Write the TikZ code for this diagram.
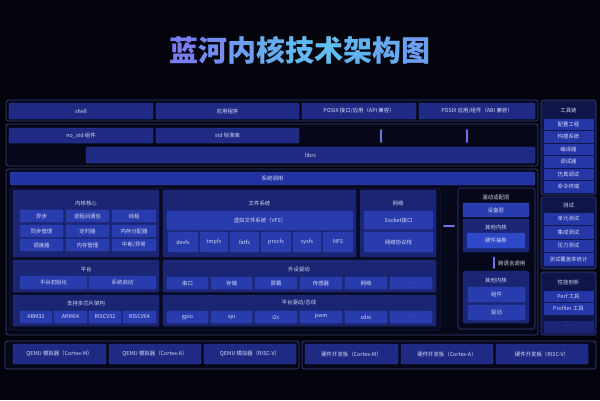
\documentclass[tikz,border=0pt]{standalone}
\usepackage{fontspec}
\setmainfont{Noto Sans CJK SC}
\usetikzlibrary{arrows.meta}
\definecolor{bg}{HTML}{03040B}
\definecolor{frameline}{HTML}{34407E}
\definecolor{framefill}{HTML}{06081A}
\definecolor{boxfill}{HTML}{1E2A84}
\definecolor{boxline}{HTML}{3444A8}
\definecolor{barfill}{HTML}{2232A0}
\definecolor{panelfill}{HTML}{1A2574}
\definecolor{panelline}{HTML}{26338C}
\definecolor{cellfill}{HTML}{293CAE}
\definecolor{cellline}{HTML}{3448BE}
\definecolor{brightfill}{HTML}{2F48C8}
\definecolor{innerfill}{HTML}{080A20}
\definecolor{innerline}{HTML}{1A2058}
\definecolor{rpanel}{HTML}{0F1548}
\definecolor{ritem}{HTML}{2536A6}
\definecolor{arrowc}{HTML}{6F74E8}
\definecolor{txt}{HTML}{D6DBF5}
\definecolor{dimtxt}{HTML}{6A74B8}
\definecolor{tA}{HTML}{7A7EF2}
\definecolor{tB}{HTML}{5CC4F0}
\newcommand{\mysmall}{\fontsize{5.4}{6}\selectfont}
\newcommand{\mytitle}{\fontsize{29}{32}\selectfont\bfseries}
\newcommand{\bx}[7]{%
  \pgfmathsetmacro{\bxw}{#4-#2}\pgfmathsetmacro{\bxh}{#5-#3}%
  \node[#6, minimum width=\bxw pt, minimum height=\bxh pt] (#1) at ({(#2+#4)/2},{(#3+#5)/2}) {#7};}
\begin{document}
\begin{tikzpicture}[x=1pt,y=-1pt,
  base/.style={inner sep=0pt, outer sep=0pt, text=txt, font=\mysmall},
  frame/.style={base, draw=frameline, fill=framefill, rounded corners=2.5pt, line width=0.7pt},
  innerframe/.style={base, draw=innerline, fill=innerfill, rounded corners=2pt, line width=0.5pt},
  box/.style={base, draw=boxline, fill=boxfill, rounded corners=1.5pt, line width=0.4pt},
  bar/.style={base, draw=boxline, fill=barfill, rounded corners=1.5pt, line width=0.4pt},
  panel/.style={base, draw=panelline, fill=panelfill, rounded corners=2pt, line width=0.4pt},
  cell/.style={base, draw=cellline, fill=cellfill, rounded corners=1.2pt, line width=0.3pt},
  bright/.style={base, draw=cellline, fill=brightfill, rounded corners=1.2pt, line width=0.3pt},
  dframe/.style={base, draw=frameline, fill=framefill, rounded corners=2.5pt, line width=0.6pt},
  rframe/.style={base, draw=frameline, fill=rpanel, rounded corners=2pt, line width=0.6pt},
  ritembox/.style={base, draw=rpanel, fill=ritem, line width=0.4pt},
  dimbox/.style={base, draw=rpanel, fill=panelfill, text=dimtxt, line width=0.4pt},
  dimcell/.style={cell, text=dimtxt},
  hdr/.style={inner sep=0pt, text=txt, font=\mysmall},
  dbl/.style={arrowc, line width=1.6pt, {Latex[length=1.6pt,width=2.6pt]}-{Latex[length=1.6pt,width=2.6pt]}}
]
\fill[bg] (0,0) rectangle (600,400);
\useasboundingbox (0,0) rectangle (600,400);

% title
\node[font=\mytitle, inner sep=0pt] (title) at (300,50) {%
{\color{tA}蓝}{\color{tA!80!tB}河}{\color{tA!55!tB}内}{\color{tA!35!tB}核}{\color{tA!15!tB}技}{\color{tA!10!tB}术}{\color{tA!25!tB}架}{\color{tA!40!tB}构}{\color{tA!55!tB}图}};

% row A
\bx{rowA}{6}{100}{538}{121}{frame}{}
\bx{shell}{9}{103}{153}{119}{box}{shell}
\bx{app}{156}{103}{299}{119}{box}{应用程序}
\bx{posixapi}{302}{103}{416}{119}{box}{POSIX 接口/应用（API 兼容）}
\bx{posixabi}{419}{103}{535}{119}{box}{POSIX 应用/组件（ABI 兼容）}

% row B
\bx{rowB}{6}{124}{538}{166}{frame}{}
\bx{nostd}{9}{128}{153}{143}{box}{no\_std 组件}
\bx{std}{156}{128}{299}{143}{box}{std 标准库}
\bx{librs}{86}{147}{535}{163}{box}{librs}
\coordinate (a1t) at (381,129);
\coordinate (a1b) at (381,143);
\coordinate (a2t) at (467,129);
\coordinate (a2b) at (467,143);
\draw[dbl] (a1t) -- (a1b);
\draw[dbl] (a2t) -- (a2b);

% main kernel
\bx{main}{6}{169}{538}{335}{frame}{}
\bx{syscall}{10}{172}{535}{185}{bar}{系统调用}
\bx{inner}{10}{188}{440}{330}{innerframe}{}

% kernel core
\bx{core}{13}{190}{159}{257}{panel}{}
\node[hdr] (coreh) at (86,203) {内核核心};
\bx{c11}{20}{210}{63}{222}{cell}{异步}
\bx{c12}{66}{210}{109}{222}{cell}{进程间通信}
\bx{c13}{112}{210}{156}{222}{cell}{线程}
\bx{c21}{20}{225}{63}{237}{cell}{同步管理}
\bx{c22}{66}{225}{109}{237}{cell}{定时器}
\bx{c23}{112}{225}{156}{237}{cell}{内存分配器}
\bx{c31}{20}{239}{63}{251}{cell}{调度器}
\bx{c32}{66}{239}{109}{251}{cell}{内存管理}
\bx{c33}{112}{239}{156}{251}{cell}{中断/异常}

% file system
\bx{fs}{163}{190}{356}{257}{panel}{}
\node[hdr] (fsh) at (259.5,203) {文件系统};
\bx{vfs}{167}{211}{353}{230}{cell}{虚拟文件系统（VFS）}
\bx{devfs}{168}{232}{198}{252}{cell}{devfs}
\bx{tmpfs}{200}{232}{228}{252}{cell}{tmpfs}
\bx{fatfs}{230}{232}{259}{252}{cell}{fatfs}
\bx{procfs}{261}{232}{291}{252}{cell}{procfs}
\bx{sysfs}{293}{232}{321}{252}{cell}{sysfs}
\bx{nfs}{323}{232}{353}{252}{cell}{NFS}

% network
\bx{net}{360}{190}{436}{257}{panel}{}
\node[hdr] (neth) at (398,203) {网络};
\bx{sock}{364}{211}{433}{229}{cell}{Socket接口}
\bx{stack}{364}{232}{433}{252}{cell}{网络协议栈}

% platform
\bx{plat}{13}{260}{159}{292}{panel}{}
\node[hdr] (plath) at (86,269) {平台};
\bx{p1}{20}{276}{87}{289}{cell}{平台初始化}
\bx{p2}{89}{276}{156}{289}{cell}{系统启动}

% peripheral drivers
\bx{perip}{163}{260}{436}{292}{panel}{}
\node[hdr] (periph) at (299,269) {外设驱动};
\bx{d1}{167}{277}{208}{289}{cell}{串口}
\bx{d2}{211}{277}{252}{289}{cell}{存储}
\bx{d3}{255}{277}{297}{289}{cell}{屏幕}
\bx{d4}{300}{277}{342}{289}{cell}{传感器}
\bx{d5}{345}{277}{387}{289}{cell}{网络}
\bx{d6}{390}{277}{432}{289}{dimcell}{......}

% arch
\bx{arch}{13}{295}{159}{326}{panel}{}
\node[hdr] (archh) at (86,303) {支持多芯片架构};
\bx{ar1}{20}{311}{52}{323}{cell}{ARM32}
\bx{ar2}{54}{311}{87}{323}{cell}{ARM64}
\bx{ar3}{89}{311}{121}{323}{cell}{RISCV32}
\bx{ar4}{123}{311}{156}{323}{cell}{RISCV64}

% bus
\bx{bus}{163}{295}{436}{326}{panel}{}
\node[hdr] (bush) at (299,303) {平台驱动/总线};
\bx{b1}{167}{311}{208}{323}{cell}{gpio}
\bx{b2}{211}{311}{252}{323}{cell}{spi}
\bx{b3}{255}{311}{297}{323}{cell}{i2c}
\bx{b4}{300}{311}{342}{323}{cell}{pwm}
\bx{b5}{345}{311}{387}{323}{cell}{sdio}
\bx{b6}{390}{311}{432}{323}{dimcell}{......}

% driver adaptation
\bx{drv}{458}{188}{535}{329}{dframe}{}
\node[hdr] (drvh) at (496,197) {驱动适配层};
\bx{devl}{463}{203}{529}{217}{cell}{设备层}
\bx{ok1}{463}{219}{529}{252}{panel}{}
\node[hdr] (ok1h) at (496,227) {其他内核};
\bx{hal}{467}{233}{525}{248}{bright}{硬件抽象}
\bx{ok2}{463}{271}{529}{323}{panel}{}
\node[hdr] (ok2h) at (496,280) {其他内核};
\bx{comp}{468}{287}{525}{302}{cell}{组件}
\bx{drvr}{468}{305}{525}{320}{cell}{驱动}
\draw[dbl] ([yshift=-4.5pt]ok1.south -| 494,0) -- ([yshift=2pt]ok2.north -| 494,0);
\node[hdr, anchor=west] (xlang) at (498,263) {跨语言调用};
\coordinate (lr1) at (443,226);
\coordinate (lr2) at (455,226);
\draw[dbl, line width=1.2pt] (lr1) -- (lr2);

% toolchain column
\bx{tool}{541}{100}{596}{195}{rframe}{}
\node[hdr] (toolh) at (568.5,110) {工具链};
\bx{t1}{543}{118}{594}{130.5}{ritembox}{配置工程}
\bx{t2}{543}{130.5}{594}{143}{ritembox}{构建系统}
\bx{t3}{543}{143}{594}{155.5}{ritembox}{编译器}
\bx{t4}{543}{155.5}{594}{168}{ritembox}{调试器}
\bx{t5}{543}{168}{594}{180.5}{ritembox}{仿真调试}
\bx{t6}{543}{180.5}{594}{193}{ritembox}{命令终端}

\bx{test}{541}{197}{596}{269}{rframe}{}
\node[hdr] (testh) at (568.5,205) {测试};
\bx{s1}{543}{212}{594}{225.5}{ritembox}{单元测试}
\bx{s2}{543}{225.5}{594}{239}{ritembox}{集成测试}
\bx{s3}{543}{239}{594}{252.5}{ritembox}{压力测试}
\bx{s4}{543}{252.5}{594}{266}{ritembox}{测试覆盖率统计}

\bx{perf}{541}{272}{596}{335}{rframe}{}
\node[hdr] (perfh) at (568.5,282) {性能剖析};
\bx{f1}{543}{290}{594}{302.5}{ritembox}{Perf 工具}
\bx{f2}{543}{302.5}{594}{315}{ritembox}{Profiler 工具}
\bx{f3}{543}{320}{594}{333}{dimbox}{......}

% bottom boards
\bx{qframe}{5}{341}{299}{369}{frame}{}
\bx{q1}{13}{344}{106}{364}{box}{QEMU 模拟器（Cortex-M）}
\bx{q2}{109}{344}{201}{364}{box}{QEMU 模拟器（Cortex-A）}
\bx{q3}{204}{344}{296}{364}{box}{QEMU 模拟器（RISC-V）}
\bx{hframe}{302}{341}{596}{369}{frame}{}
\bx{h1}{305}{344}{398}{364}{box}{硬件开发板（Cortex-M）}
\bx{h2}{401}{344}{493}{364}{box}{硬件开发板（Cortex-A）}
\bx{h3}{496}{344}{588}{364}{box}{硬件开发板（RISC-V）}
\end{tikzpicture}
\end{document}
